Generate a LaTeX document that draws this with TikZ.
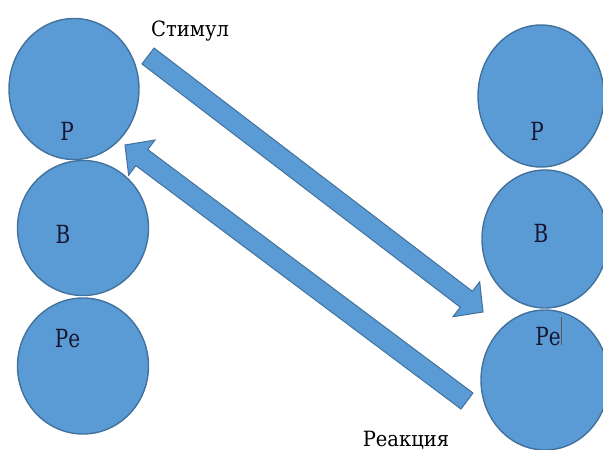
\documentclass[tikz,border=0pt]{standalone}
\usepackage{fontspec}
\newfontfamily\letterfont[FakeStretch=0.8]{DejaVu Serif}
\newfontfamily\captionfont[FakeStretch=0.93]{DejaVu Serif}
\usetikzlibrary{shapes.geometric,calc}
\definecolor{blobfill}{HTML}{5B9BD5}
\definecolor{blobedge}{HTML}{41719C}
\definecolor{inktext}{RGB}{22,22,48}
\tikzset{
  blob/.style={ellipse, fill=blobfill, draw=blobedge, line width=1.4pt, inner sep=0pt},
  blobtext/.style={anchor=base, inner sep=0pt, text=inktext, font=\letterfont\fontsize{25}{25}\selectfont},
  captext/.style={anchor=base, inner sep=0pt, text=black, font=\captionfont\fontsize{21}{21}\selectfont},
  arrowfill/.style={fill=blobfill, draw=blobedge, line width=1pt, line join=miter}
}
\newcommand\blockarrow[3]{%
  \coordinate (#3hb) at ($(#2)!21pt!(#1)$);
  \draw[arrowfill] ($(#1)!10pt!90:(#2)$) -- ($(#3hb)!10pt!90:(#2)$) -- ($(#3hb)!22pt!90:(#2)$)
    -- (#2) -- ($(#3hb)!22pt!-90:(#2)$) -- ($(#3hb)!10pt!-90:(#2)$) -- ($(#1)!10pt!-90:(#2)$) -- cycle;
}
\begin{document}
\begin{tikzpicture}[x=1pt,y=-1pt]
\useasboundingbox (0,0) rectangle (603,450);
% left column
\node[blob, minimum width=130pt, minimum height=141pt] (lp) at (74,89) {};
\node[blob, minimum width=131pt, minimum height=135pt] (lb) at (83,228) {};
\node[blob, minimum width=131pt, minimum height=136pt] (le) at (83,366) {};
% right column
\node[blob, minimum width=126pt, minimum height=142pt] (rp) at (541,96) {};
\node[blob, minimum width=126pt, minimum height=138pt] (rb) at (545,239) {};
\node[blob, minimum width=128pt, minimum height=140pt] (re) at (545,380) {};
% letters
\node[blobtext] (lpt) at (67,140) {Р};
\node[blobtext] (lbt) at (63,243) {В};
\node[blobtext] (let) at (67.5,347) {Ре};
\node[blobtext] (rpt) at (537,140) {Р};
\node[blobtext] (rbt) at (541,242) {В};
\node[blobtext] (ret) at (548,345) {Ре};
\coordinate (curtop) at (561,317);
\coordinate (curbot) at (561,345);
\draw[gray!70!black, line width=0.5pt] (curtop) -- (curbot);
% arrows
\coordinate (s1) at (148,56);
\coordinate (t1) at (483,312);
\blockarrow{s1}{t1}{aa}
\coordinate (s2) at (467,401);
\coordinate (t2) at (125,145);
\blockarrow{s2}{t2}{bb}
% captions
\node[captext] (stim) at (190,36) {Стимул};
\node[captext] (reak) at (406,446) {Реакция};
\end{tikzpicture}
\end{document}
